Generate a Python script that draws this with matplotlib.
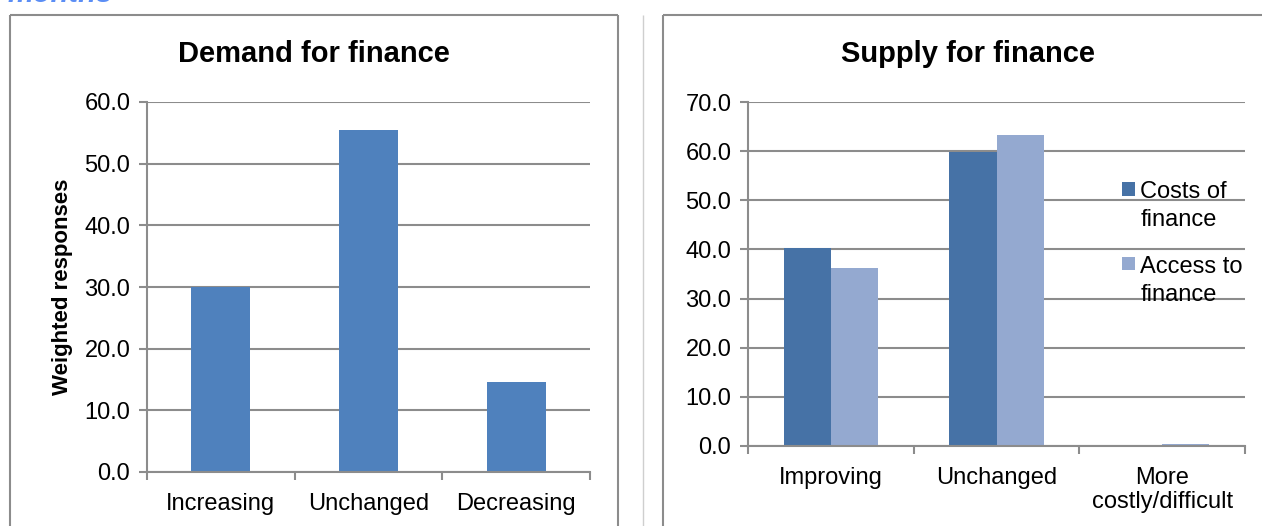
import matplotlib
matplotlib.use("Agg")
import matplotlib.pyplot as plt
from matplotlib.patches import Rectangle
from matplotlib.lines import Line2D
from matplotlib.legend_handler import HandlerPatch

plt.rcParams['font.family'] = ['Liberation Sans', 'DejaVu Sans']

# Demand for finance
demand_categories = ["Increasing", "Unchanged", "Decreasing"]
demand_values = [30.0, 55.4, 14.6]
demand_ticks = [0, 10, 20, 30, 40, 50, 60]

# Supply for finance
supply_categories = ["Improving", "Unchanged", "More\ncostly/difficult"]
costs_values = [40.2, 59.8, 0.0]
access_values = [36.2, 63.3, 0.5]
supply_ticks = [0, 10, 20, 30, 40, 50, 60, 70]
series_names = ["Costs of\nfinance", "Access to\nfinance"]

W, H = 1262, 526
fig = plt.figure(figsize=(W / 100, H / 100), dpi=100)
fig.patch.set_facecolor("white")


def fx(px):
    return px / W


def fy(py):
    return 1 - py / H


GRID = "#8c8c8c"
TICK_FS = 17


def add_frame_line(x0, y0, x1, y1, color, lw):
    fig.add_artist(Line2D([fx(x0), fx(x1)], [fy(y0), fy(y1)],
                          transform=fig.transFigure, color=color, lw=lw,
                          solid_capstyle="butt"))


# panel borders and separator
add_frame_line(10, 15, 618, 15, "#8c8c8c", 1.5)
add_frame_line(10, 15, 10, 530, "#8c8c8c", 1.5)
add_frame_line(618, 15, 618, 530, "#8c8c8c", 1.5)
add_frame_line(643, 15, 643, 530, "#cfcfcf", 1.0)
add_frame_line(663, 15, 1265, 15, "#8c8c8c", 1.5)
add_frame_line(663, 15, 663, 530, "#8c8c8c", 1.5)

fig.text(fx(8), fy(2), "months", fontsize=21, fontweight="bold",
         fontstyle="italic", color="#5b8ef5", ha="left", va="baseline")


def style_axes(ax, ymax, ticks, ncat, labels):
    ax.set_ylim(0, ymax)
    ax.set_xlim(-0.5, ncat - 0.5)
    ax.set_yticks(ticks)
    ax.set_yticklabels([f"{t:.1f}" for t in ticks], fontsize=TICK_FS)
    ax.yaxis.grid(True, color=GRID, lw=1.5)
    ax.set_axisbelow(True)
    for s in ["top", "right"]:
        ax.spines[s].set_visible(False)
    for s in ["left", "bottom"]:
        ax.spines[s].set_color(GRID)
        ax.spines[s].set_linewidth(1.5)
    ax.tick_params(axis="y", length=6, width=1.5, color=GRID, pad=6)
    ax.set_xticks(range(ncat))
    ax.set_xticklabels(labels, fontsize=TICK_FS, linespacing=1.15)
    ax.tick_params(axis="x", which="major", length=0, pad=15)
    ax.set_xticks([i - 0.5 for i in range(ncat + 1)], minor=True)
    ax.tick_params(axis="x", which="minor", length=6, width=1.5, color=GRID)


# left chart
ax1 = fig.add_axes([fx(147), fy(472), fx(590 - 147), (472 - 102) / H])
ax1.bar(range(len(demand_values)), demand_values, width=0.4, color="#4f81bd")
style_axes(ax1, 60, demand_ticks, 3, demand_categories)
ax1.set_ylabel("Weighted responses", fontsize=16, fontweight="bold", labelpad=8)
fig.text(fx(314), fy(62), "Demand for finance", fontsize=21, fontweight="bold",
         ha="center", va="baseline")

# right chart
ax2 = fig.add_axes([fx(748), fy(446), fx(1245 - 748), (446 - 102) / H])
bw = 0.284
xs = range(len(costs_values))
b1 = ax2.bar([x - bw / 2 for x in xs], costs_values, width=bw, color="#4672a6")
b2 = ax2.bar([x + bw / 2 for x in xs], access_values, width=bw, color="#94a9d0")
style_axes(ax2, 70, supply_ticks, 3, supply_categories)
fig.text(fx(968), fy(62), "Supply for finance", fontsize=21, fontweight="bold",
         ha="center", va="baseline")


def top_square(legend, orig_handle, xdescent, ydescent, width, height, fontsize):
    # square marker level with the first line of a two-line label
    return Rectangle((-xdescent, -ydescent + 0.75 * fontsize), width, width)


leg = ax2.legend([b1.patches[0], b2.patches[0]], series_names, loc="upper left",
                 bbox_to_anchor=(fx(1122), fy(181)), bbox_transform=fig.transFigure,
                 frameon=False, fontsize=TICK_FS, borderpad=0, borderaxespad=0,
                 handlelength=0.57, handleheight=0.57, handletextpad=0.2,
                 labelspacing=1.05,
                 handler_map={Rectangle: HandlerPatch(patch_func=top_square)})
for t in leg.get_texts():
    t.set_linespacing(1.35)

fig.savefig("out.png", dpi=100, facecolor="white")
